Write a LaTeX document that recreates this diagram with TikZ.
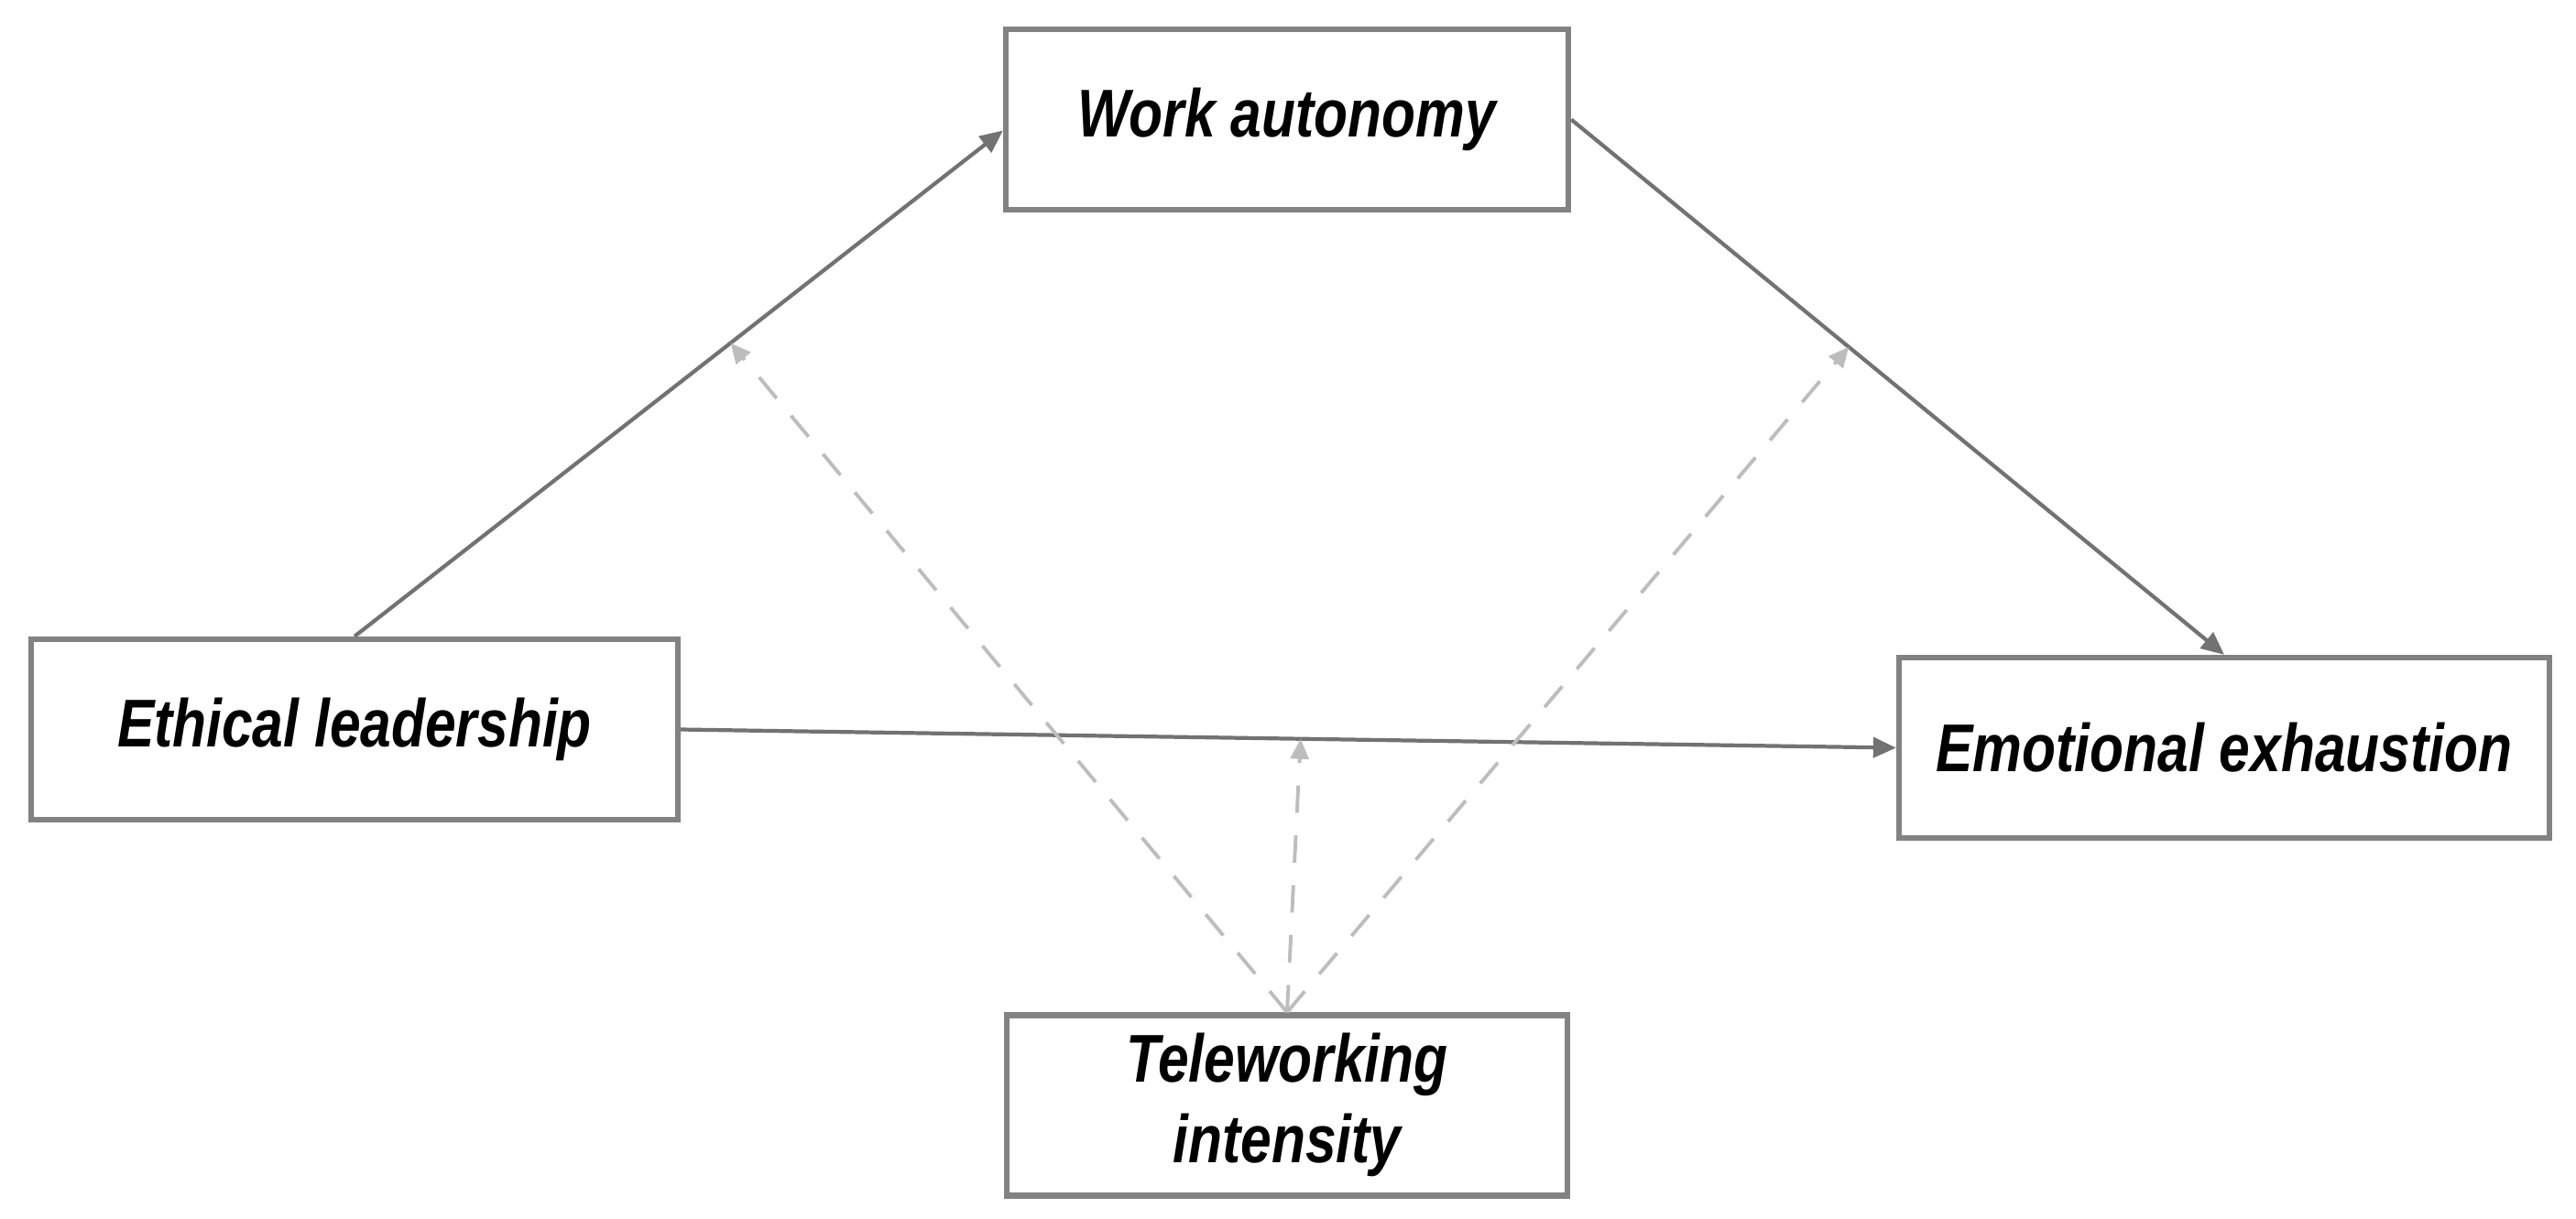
\documentclass[tikz,border=0pt]{standalone}
\usepackage{fontspec}
\newfontfamily\labelfont{Liberation Sans}[FakeStretch=0.82]
\usepackage{xcolor}
\usetikzlibrary{positioning, arrows.meta, calc}
\definecolor{boxgray}{HTML}{828282}
\definecolor{arrowgray}{HTML}{727272}
\definecolor{dashgray}{HTML}{BDBDBD}

\begin{document}
\begin{tikzpicture}[
        var/.style={draw=boxgray, line width=1.8pt, minimum height=1.97cm, inner sep=0pt, align=center,
            font=\labelfont\bfseries\itshape\fontsize{21}{25}\selectfont},
        direct/.style={color=arrowgray, line width=1.2pt, -{Triangle[length=0.25cm, width=0.22cm]}},
        moderate/.style={color=dashgray, line width=1.1pt, dash pattern=on 8.5pt off 7pt, -{Triangle[length=0.22cm, width=0.2cm]}}
    ]
        \useasboundingbox (0,0) rectangle (28.12,-13.30);
        \node[var, minimum width=6.14cm] (autonomy) at (14.05,-1.305) {Work autonomy};
        \node[var, minimum width=7.06cm] (leadership) at (3.87,-7.965) {Ethical leadership};
        \node[var, minimum width=7.10cm] (exhaustion) at (24.28,-8.165) {Emotional exhaustion};
        \node[var, minimum width=6.12cm, below=8.73cm of autonomy] (telework) {Teleworking\\intensity};
%
        \coordinate (apath) at ($(leadership.north)!0.58!([yshift=-0.12cm]autonomy.west)$);
        \coordinate (bpath) at ($(autonomy.east)!0.425!(exhaustion.north)$);
        \coordinate (cpath) at ($(leadership.east)!0.51!(exhaustion.west)$);
%
        \path
        (leadership.north) edge[direct] ([yshift=-0.12cm]autonomy.west)
        (autonomy.east) edge[direct] (exhaustion.north)
        (leadership.east) edge[direct] (exhaustion.west);
        % moderation by teleworking
        \path
        (telework.north) edge[moderate] (apath)
        (telework.north) edge[moderate] (bpath)
        (telework.north) edge[moderate] (cpath);
\end{tikzpicture}
\end{document}
